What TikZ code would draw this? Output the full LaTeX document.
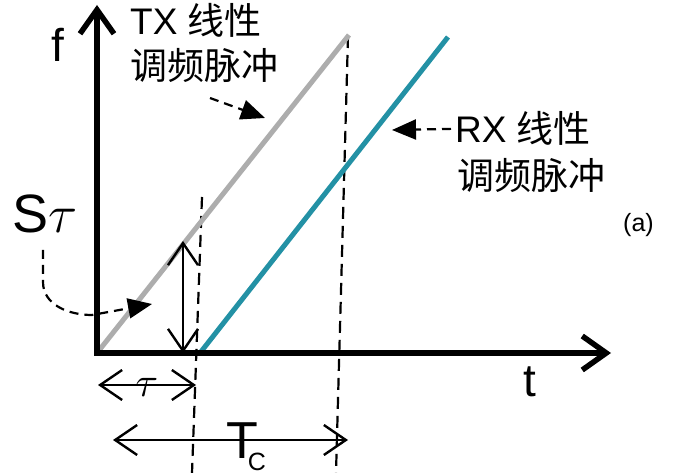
\RequirePackage{fix-cm}
\documentclass[tikz,border=0pt]{standalone}
\usepackage{fontspec}
\setmainfont{Liberation Sans}
\newfontfamily\cjk{Noto Sans CJK SC}
\usetikzlibrary{arrows.meta,calc}
\definecolor{rxteal}{RGB}{35,145,165}
\tikzset{
	axis/.style={line width=5.5pt, {Straight Barb[length=24pt,width=34pt]}-{Straight Barb[length=24pt,width=34pt]}},
	dimline/.style={line width=2.4pt, {Straight Barb[length=22pt,width=30pt]}-{Straight Barb[length=22pt,width=30pt]}},
	guide/.style={line width=2.2pt, dash pattern=on 12pt off 7pt},
	pointer/.style={line width=2.2pt, dash pattern=on 9pt off 6pt, -{Triangle[length=24pt,width=20pt]}},
	lbl/.style={inner sep=0pt, font=\fontsize{37}{37}\selectfont}
}

\begin{document}
\begin{tikzpicture}[x=1pt,y=-1pt]
			%%%%% START %%%%%
			\useasboundingbox (0,0) rectangle (689,473);
			
			\coordinate (O) at (97,353);
			\coordinate (ftip) at (97,5);
			\coordinate (ttip) at (611,353);
			\coordinate (txend) at (349,35);
			\coordinate (rx0) at (200,353);
			\coordinate (rxend) at (448,37);
			
			% dashed guides
			\coordinate (g1top) at (202,197);
			\coordinate (g1bot) at (192,473);
			\coordinate (g2top) at (348,36);
			\coordinate (g2bot) at (336,473);
			\draw[guide] (g1top) -- (g1bot);
			\draw[guide] (g2top) -- (g2bot);
			
			\draw[line width=5pt, color=black!32] (O) -- (txend);
			\draw[line width=5pt, color=rxteal] (rx0) -- (rxend);
			\draw[axis] (ftip) -- (O) -- (ttip);
			
			\node[lbl, font=\fontsize{46}{46}\selectfont, anchor=base] (flbl) at (58,62) {f};
			\node[lbl, font=\fontsize{46}{46}\selectfont, anchor=base] (tlbl) at (530,397) {t};
			
			\node[lbl, anchor=base west] (tx) at (130,35) {TX {\cjk 线性}};
			\node[lbl, anchor=base west] (txb) at (130,80) {\cjk 调频脉冲};
			\node[lbl, anchor=base west] (rx) at (455,143) {RX {\cjk 线性}};
			\node[lbl, anchor=base west] (rxb) at (457,190) {\cjk 调频脉冲};
			\node[lbl, font=\fontsize{25}{25}\selectfont, anchor=base west] (alabel) at (623,232) {(a)};
			\node[lbl, font=\fontsize{54}{54}\selectfont, anchor=base west] (slbl) at (12,233) {S$\tau$};
			
			% pointers
			\coordinate (txp) at (210,98);
			\coordinate (txtip) at (265,118);
			\draw[pointer] (txp) -- (txtip);
			\coordinate (rxtip) at (392,130);
			\draw[pointer] ($(rx.west)+(-4,0)$) -- (rxtip);
			\coordinate (sp) at (43,250);
			\coordinate (sptip) at (152,304);
			\draw[pointer] (sp) -- (43,282) to[out=-90,in=180] (92,315) -- (sptip);
			
			% spans
			\coordinate (sbot) at (183,353);
			\coordinate (stop) at (183,241);
			\draw[dimline] (sbot) -- (stop);
			\coordinate (ta) at (98,385);
			\coordinate (tb) at (196,385);
			\draw[dimline] (ta) -- (tb);
			\node[lbl, font=\fontsize{42}{42}\selectfont, anchor=base] (taulbl) at (147,397) {$\tau$};
			\coordinate (ca) at (113,440);
			\coordinate (cb) at (348,440);
			\draw[dimline] (ca) -- (cb);
			\node[lbl, font=\fontsize{52}{52}\selectfont, anchor=base west] (tclbl) at (226,458) {T\kern-10pt\raisebox{-12pt}{\fontsize{25}{25}\selectfont C}};
			
			%%%%% END %%%%%
\end{tikzpicture}
\end{document}
